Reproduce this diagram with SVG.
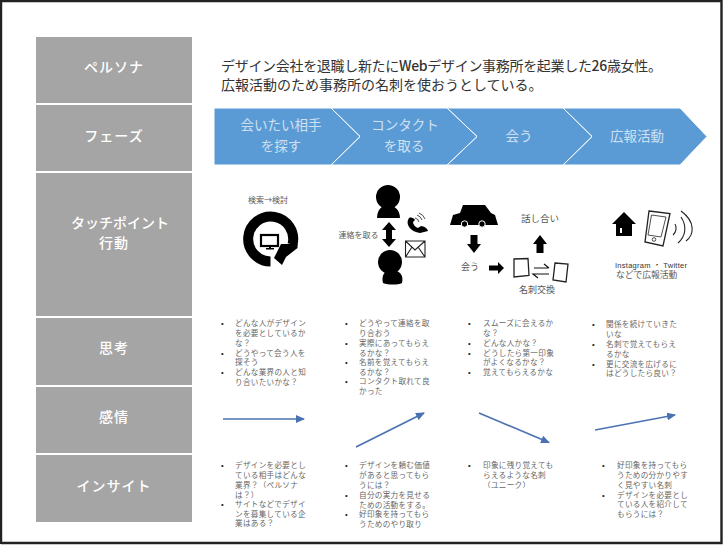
<svg xmlns="http://www.w3.org/2000/svg" width="725" height="545" viewBox="0 0 725 545">
<style>
text{font-family:"Liberation Sans","Noto Sans CJK JP",sans-serif}
.cell{fill:#a5a5a5}
.h{fill:#fff;font-size:14px;font-weight:500;text-anchor:middle;letter-spacing:1px;font-family:"Noto Sans CJK JP",sans-serif}
.chev{fill:#5b9bd5;stroke:#fff;stroke-width:1}
.c{fill:#cfe0f1;font-size:13.5px;text-anchor:middle}
.p{fill:#333;font-size:14px;font-family:"Noto Sans CJK JP",sans-serif}
.b{fill:#666;font-size:7.6px;letter-spacing:.3px}
.d{fill:#222;font-size:7.6px}
.i{fill:#595959;font-size:8.800px}
.m{fill:#595959;font-size:8px;text-anchor:middle}
.k{fill:#000}
.a{fill:none;stroke:#4a72b0;stroke-width:1.6;marker-end:url(#ah)}
</style>
<defs>
<marker id="ah" markerUnits="userSpaceOnUse" markerWidth="9" markerHeight="8" refX="8" refY="4" orient="auto"><path d="M0 0L9 4L0 8Z" fill="#4a72b0"/></marker>
<g id="bar"><path d="M-3.500 0H3.500V9H7L0 18L-7 9H-3.500Z" class="k"/></g>
</defs>
<rect width="725" height="545" fill="#fff"/>
<path d="M1 544V1H721.500V543H1" fill="none" stroke="#222" stroke-width="2.400"/>

<g id="persona-label"><rect class="cell" x="36" y="37" width="156" height="66"/><text class="h" x="114" y="72">ペルソナ</text></g>
<g id="phase-label"><rect class="cell" x="36" y="105" width="156" height="66"/><text class="h" x="114" y="141">フェーズ</text></g>
<g id="touch-label"><rect class="cell" x="36" y="173" width="156" height="143"/><text class="h" x="120" y="228" style="letter-spacing:0">タッチポイント</text><text class="h" x="114" y="248">行動</text></g>
<g id="thought-label"><rect class="cell" x="36" y="318" width="156" height="67"/><text class="h" x="114" y="353">思考</text></g>
<g id="emotion-label"><rect class="cell" x="36" y="387" width="156" height="66"/><text class="h" x="114" y="422">感情</text></g>
<g id="insight-label"><rect class="cell" x="36" y="455" width="156" height="67"/><text class="h" x="114" y="491">インサイト</text></g>

<g id="persona-text">
<text class="p" x="221" y="71" textLength="441">デザイン会社を退職し新たに<tspan font-weight="500">Web</tspan>デザイン事務所を起業した<tspan font-weight="500">26</tspan>歳女性。</text>
<text class="p" x="221" y="90">広報活動のため事務所の名刺を使おうとしている。</text>
</g>

<g id="phase-4"><path class="chev" d="M563 108H680L707 136.500L680 165H563L592 136.500Z"/><text class="c" x="637" y="141">広報活動</text></g>
<g id="phase-3"><path class="chev" d="M447 108H563L592 136.500L563 165H447L477 136.500Z"/><text class="c" x="519" y="141">会う</text></g>
<g id="phase-2"><path class="chev" d="M331 108H447L477 136.500L447 165H331L360 136.500Z"/><text class="c" x="405" y="130">コンタクト</text><text class="c" x="404" y="151">を取る</text></g>
<g id="phase-1"><path class="chev" d="M214 108H331L360 136.500L331 165H214Z"/><text class="c" x="281" y="130">会いたい相手</text><text class="c" x="281" y="151">を探す</text></g>

<g id="touch-search">
<text class="m" x="268" y="203" style="font-family:'Noto Sans CJK JP',sans-serif">検索→検討</text>
<path d="M270.500 261.500A22.500 22.500 0 1 1 292.500 244.500" fill="none" stroke="#000" stroke-width="10"/>
<path d="M274 258L281 244H297.500V248L286 257L282 265Z" class="k"/>
<rect x="261" y="235" width="17" height="11" fill="none" stroke="#000" stroke-width="2.200"/><path d="M269 246h2v2h3v1.500h-8v-1.500h3Z" class="k"/>
</g>
<g id="touch-contact">
<text class="m" x="358.500" y="238">連絡を取る</text>
<circle class="k" cx="388" cy="197" r="12"/><path class="k" d="M377 218C377 210 382 205 388 205S400 210 400 218Z"/>
<circle class="k" cx="390" cy="262" r="12"/><path class="k" d="M383 283C381 275 385 270 392 270S404 275 402 283C398 285 388 285 383 283Z"/>
<path class="k" d="M389 222L396 230H392V239H396L389 247L382 239H386V230H382Z"/>
<path class="k" d="M408 220C406 225 411 232 420 233L428 231C428 229 424 226 421 226L418 228C415 227 413 224 413 222L415 220C414 218 411 217 409 218Z"/>
<path d="M415 218A5 5 0 0 1 419 222M417 215A8 8 0 0 1 422 220M419 213A10 10 0 0 1 425 219" fill="none" stroke="#000" stroke-width=".7"/>
<path d="M405.500 241H425V257H405.500ZM405.500 241L415 250L425 241M405.500 257L412 247M425 257L418 247" fill="none" stroke="#222" stroke-width="1.100"/>
</g>
<g id="touch-meet">
<path class="k" d="M450 225L453 215L460 213L463 205H485L491 213L495 215L498 225Z"/>
<circle class="k" cx="464.500" cy="224" r="3.200" stroke="#fff"/><circle class="k" cx="482" cy="224" r="3.200" stroke="#fff"/>
<use href="#bar" x="474" y="235"/>
<text class="m" x="470" y="270" style="font-size:9px">会う</text>
<path class="k" d="M489 265.500H498V262L504 268L498 274V270.500H489Z"/>
<path d="M514 259L528 258.500L529 275.500L514 277Z" fill="none" stroke="#222" stroke-width="1.300"/>
<path d="M555 263L568 264L566 282L553 280Z" fill="none" stroke="#222" stroke-width="1.300"/>
<path d="M534 268H548M544 264L549 268M549 274H533L538 278" fill="none" stroke="#111" stroke-width="1.200"/>
<use href="#bar" transform="translate(540 253) scale(1 -1)"/>
<text class="m" x="540" y="222" style="font-size:9.500px">話し合い</text>
<text class="m" x="537" y="293" style="font-size:9px">名刺交換</text>
</g>
<g id="touch-promo">
<path class="k" d="M612 224L624 212L636 224H632V236H616V224Z"/><rect x="620" y="228" width="2" height="5" fill="#fff"/>
<path d="M649 211L670 213.500L663 246L645 242Z" fill="none" stroke="#222" stroke-width="1.300"/>
<path d="M651.500 215L666 217L661 237L648 235Z" fill="none" stroke="#222" stroke-width=".8"/>
<circle cx="654" cy="239.500" r="1.800" fill="none" stroke="#222" stroke-width=".8"/>
<path d="M675 224A9 9 0 0 1 673 235M681 217C687 226 686 236 678 243M681 211C696 222 694 235 686 241" fill="none" stroke="#222" stroke-width="1.100"/>
<text x="615" y="268" style="font-size:7.500px;fill:#333" textLength="72">Instagram ・ Twitter</text>
<text class="i" x="616" y="278">などで広報活動</text>
</g>

<g id="thought-1">
<text class="d" x="221" y="326">•</text><text class="b" x="235" y="326">どんな人がデザイン</text><text class="b" x="235" y="336">を必要としているか</text><text class="b" x="235" y="346">な？</text>
<text class="d" x="221" y="355.500">•</text><text class="b" x="235" y="355.500">どうやって会う人を</text><text class="b" x="235" y="365">探そう</text>
<text class="d" x="221" y="375">•</text><text class="b" x="235" y="375">どんな業界の人と知</text><text class="b" x="235" y="385">り合いたいかな？</text>
</g>
<g id="thought-2">
<text class="d" x="345" y="326">•</text><text class="b" x="359" y="326">どうやって連絡を取</text><text class="b" x="359" y="336">り合おう</text>
<text class="d" x="345" y="346">•</text><text class="b" x="359" y="346">実際にあってもらえ</text><text class="b" x="359" y="355.500">るかな？</text>
<text class="d" x="345" y="365">•</text><text class="b" x="359" y="365">名前を覚えてもらえ</text><text class="b" x="359" y="374.500">るかな？</text>
<text class="d" x="345" y="384">•</text><text class="b" x="359" y="384">コンタクト取れて良</text><text class="b" x="359" y="394">かった</text>
</g>
<g id="thought-3">
<text class="d" x="468" y="326">•</text><text class="b" x="483" y="326">スムーズに会えるか</text><text class="b" x="483" y="336">な？</text>
<text class="d" x="468" y="346">•</text><text class="b" x="483" y="346">どんな人かな？</text>
<text class="d" x="468" y="355.500">•</text><text class="b" x="483" y="355.500">どうしたら第一印象</text><text class="b" x="483" y="365">がよくなるかな？</text>
<text class="d" x="468" y="375">•</text><text class="b" x="483" y="375">覚えてもらえるかな</text>
</g>
<g id="thought-4">
<text class="d" x="592" y="327">•</text><text class="b" x="606" y="327">関係を続けていきた</text><text class="b" x="606" y="337">いな</text>
<text class="d" x="592" y="347">•</text><text class="b" x="606" y="347">名刺で覚えてもらえ</text><text class="b" x="606" y="357">るかな</text>
<text class="d" x="592" y="366.500">•</text><text class="b" x="606" y="366.500">更に交流を広げるに</text><text class="b" x="606" y="376">はどうしたら良い？</text>
</g>

<g id="connectors">
<path class="a" d="M223 419H304"/>
<path class="a" d="M356 447L424 413"/>
<path class="a" d="M479 413L549 442.500"/>
<path class="a" d="M595 430L675 415"/>
</g>

<g id="insight-1">
<text class="d" x="221" y="468">•</text><text class="b" x="235" y="468">デザインを必要とし</text><text class="b" x="235" y="478">ている相手はどんな</text><text class="b" x="235" y="488">業界？（ペルソナ</text><text class="b" x="235" y="497.500">は？）</text>
<text class="d" x="221" y="507">•</text><text class="b" x="235" y="507">サイトなどでデザイ</text><text class="b" x="235" y="516.500">ンを募集している企</text><text class="b" x="235" y="526">業はある？</text>
</g>
<g id="insight-2">
<text class="d" x="345" y="468">•</text><text class="b" x="359" y="468">デザインを頼む価値</text><text class="b" x="359" y="478">があると思ってもら</text><text class="b" x="359" y="488">うには？</text>
<text class="d" x="345" y="498">•</text><text class="b" x="359" y="498">自分の実力を見せる</text><text class="b" x="359" y="507.500">ための活動をする。</text>
<text class="d" x="345" y="517">•</text><text class="b" x="359" y="517">好印象を持ってもら</text><text class="b" x="359" y="526.500">うためのやり取り</text>
</g>
<g id="insight-3">
<text class="d" x="468" y="468">•</text><text class="b" x="483" y="468">印象に残り覚えても</text><text class="b" x="483" y="478">らえるような名刺</text><text class="b" x="483" y="487.500">（ユニーク）</text>
</g>
<g id="insight-4">
<text class="d" x="602" y="468">•</text><text class="b" x="617" y="468">好印象を持ってもら</text><text class="b" x="617" y="478">うための分かりやす</text><text class="b" x="617" y="488">く見やすい名刺</text>
<text class="d" x="602" y="497.500">•</text><text class="b" x="617" y="497.500">デザインを必要とし</text><text class="b" x="617" y="507">ている人を紹介して</text><text class="b" x="617" y="516.500">もらうには？</text>
</g>
</svg>
